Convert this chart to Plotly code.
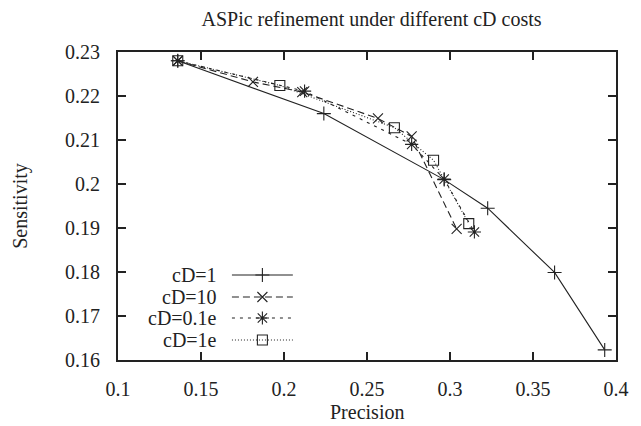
import plotly.graph_objects as go

# ---- data ----
names = ["cD=1", "cD=10", "cD=0.1e", "cD=1e"]
prec_cd1 = [0.136, 0.224, 0.2965, 0.3227, 0.3630, 0.3932]
sens_cd1 = [0.2280, 0.2160, 0.2010, 0.1945, 0.1799, 0.1623]

prec_cd10 = [0.136, 0.1813, 0.211, 0.2566, 0.2769, 0.3040]
sens_cd10 = [0.2280, 0.2232, 0.2209, 0.2149, 0.2108, 0.1898]

prec_cd01e = [0.136, 0.2124, 0.2769, 0.2965, 0.3147]
sens_cd01e = [0.2280, 0.2211, 0.2090, 0.2011, 0.1891]

prec_cd1e = [0.136, 0.1975, 0.2665, 0.2901, 0.3113]
sens_cd1e = [0.2280, 0.2224, 0.2128, 0.2054, 0.1910]

x_ticks = [0.1, 0.15, 0.2, 0.25, 0.3, 0.35, 0.4]
x_tick_text = ["0.1", "0.15", "0.2", "0.25", "0.3", "0.35", "0.4"]
y_ticks = [0.16, 0.17, 0.18, 0.19, 0.2, 0.21, 0.22, 0.23]
y_tick_text = ["0.16", "0.17", "0.18", "0.19", "0.2", "0.21", "0.22", "0.23"]

# ---- styles ----
INK = "#222222"
FONT = "Liberation Serif"
FS = 20
styles = [
    dict(dash="solid", symbol="cross-thin", size=10),
    dict(dash="7px,4px", symbol="x-thin", size=10),
    dict(dash="3px,5px", symbol="asterisk", size=11),
    dict(dash="1px,2px", symbol="square-open", size=10),
]
series = [(prec_cd1, sens_cd1), (prec_cd10, sens_cd10),
          (prec_cd01e, sens_cd01e), (prec_cd1e, sens_cd1e)]

fig = go.Figure()
for (xs, ys), st, nm in zip(series, styles, names):
    fig.add_trace(go.Scatter(
        x=xs, y=ys, mode="lines+markers", name=nm, showlegend=False,
        line=dict(color=INK, width=1.1, dash=st["dash"]),
        marker=dict(symbol=st["symbol"], size=st["size"], color=INK,
                    line=dict(color=INK, width=1.1)),
    ))

# ---- gnuplot-style key (text left, sample right) on hidden pixel-like axes ----
L, R, T, B = 118, 625, 52, 360
key_y = [275, 297, 318, 340]
for (nm, st, ky) in zip(names, styles, key_y):
    fig.add_trace(go.Scatter(
        x=[234, 296], y=[ky, ky], xaxis="x2", yaxis="y2", mode="lines",
        showlegend=False, hoverinfo="skip",
        line=dict(color=INK, width=1.1, dash=st["dash"])))
    fig.add_trace(go.Scatter(
        x=[265], y=[ky], xaxis="x2", yaxis="y2", mode="markers",
        showlegend=False, hoverinfo="skip",
        marker=dict(symbol=st["symbol"], size=st["size"], color=INK,
                    line=dict(color=INK, width=1.1))))
    fig.add_annotation(x=221, y=ky, xref="x2", yref="y2", text=nm,
                       showarrow=False, xanchor="right", yanchor="middle",
                       font=dict(family=FONT, size=FS, color=INK))

axis_common = dict(showgrid=False, zeroline=False, showline=True,
                   linecolor=INK, linewidth=2, mirror="ticks",
                   ticks="inside", ticklen=8, tickwidth=1.5, tickcolor=INK,
                   tickfont=dict(family=FONT, size=FS, color=INK))

fig.update_layout(
    width=641, height=426,
    margin=dict(l=L, r=641 - R, t=T, b=426 - B),
    paper_bgcolor="white", plot_bgcolor="white",
    font=dict(family=FONT, size=FS, color=INK),
    xaxis=dict(range=[0.1, 0.4], tickvals=x_ticks, ticktext=x_tick_text,
               ticklabelstandoff=10, **axis_common),
    yaxis=dict(range=[0.16, 0.23], tickvals=y_ticks, ticktext=y_tick_text,
               ticklabelstandoff=12, **axis_common),
    xaxis2=dict(range=[L, R], overlaying="x", visible=False, fixedrange=True),
    yaxis2=dict(range=[B, T], overlaying="y", visible=False, fixedrange=True),
    title=dict(text="ASPic refinement under different cD costs",
               x=(L + R) / 2 / 641, xanchor="center", y=1 - 19 / 426,
               yanchor="middle", font=dict(family=FONT, size=FS, color=INK)),
    showlegend=False,
)
fig.add_annotation(text="Precision", xref="paper", yref="paper",
                   x=0.5, y=-(412 - B) / (B - T), xanchor="center",
                   yanchor="middle", showarrow=False,
                   font=dict(family=FONT, size=FS, color=INK))
fig.add_annotation(text="Sensitivity", xref="paper", yref="paper",
                   x=-(L - 18) / (R - L), y=0.5, xanchor="center",
                   yanchor="middle", textangle=-90, showarrow=False,
                   font=dict(family=FONT, size=FS, color=INK))

fig.write_html("out.html")
